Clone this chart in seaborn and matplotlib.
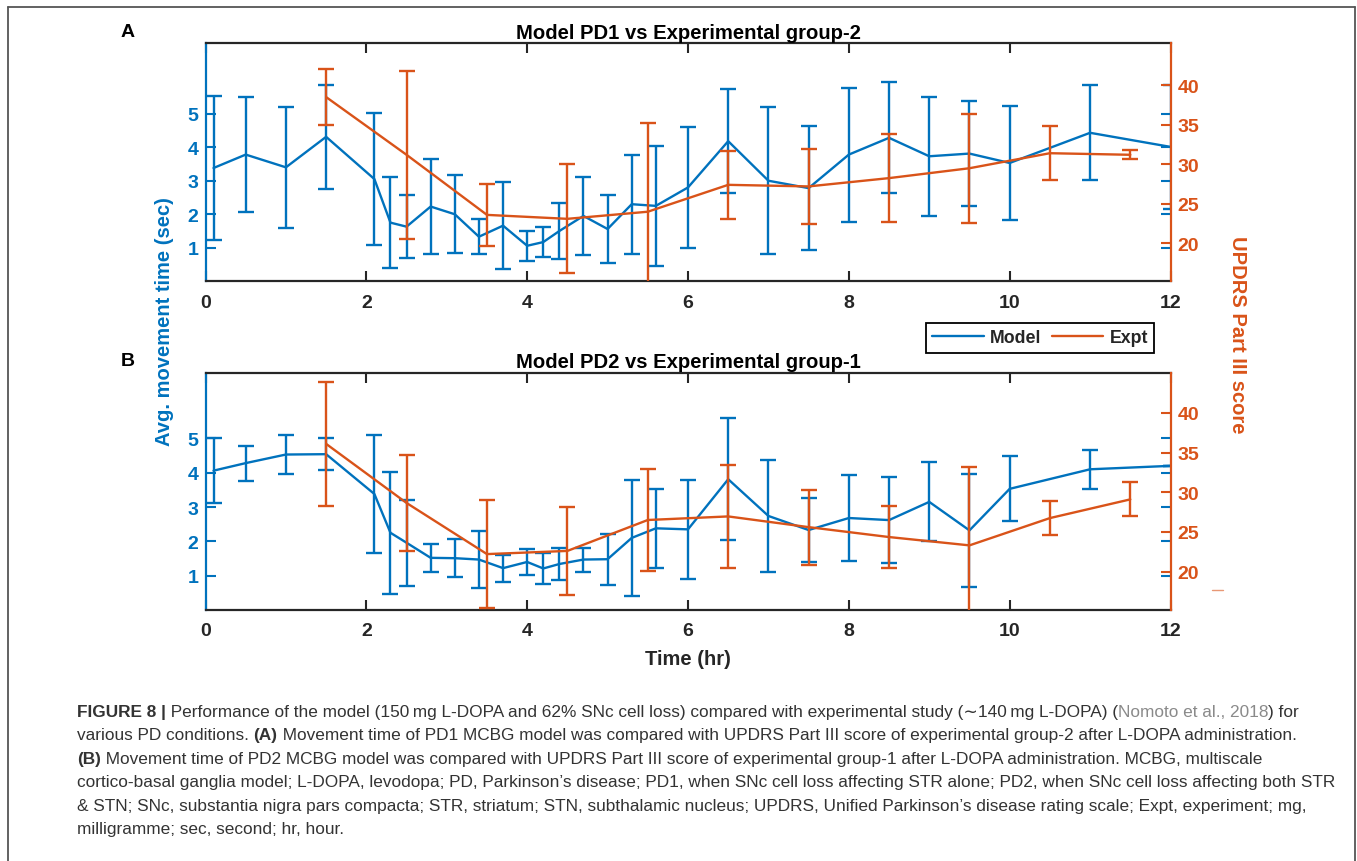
import matplotlib
matplotlib.use("Agg")
import matplotlib.pyplot as plt
from matplotlib.lines import Line2D
import seaborn as sns
import numpy as np

# ---------------- data ----------------
model_x = [0.1, 0.5, 1.0, 1.5, 2.1, 2.3, 2.5, 2.8, 3.1, 3.4, 3.7, 4.0, 4.2, 4.4, 4.7,
           5.0, 5.3, 5.6, 6.0, 6.5, 7.0, 7.5, 8.0, 8.5, 9.0, 9.5, 10.0, 11.0, 12.0]
model_y_A = [3.38, 3.78, 3.40, 4.31, 3.05, 1.75, 1.63, 2.23, 2.00, 1.33, 1.66, 1.06, 1.17, 1.50, 1.95,
             1.56, 2.30, 2.25, 2.80, 4.18, 3.00, 2.78, 3.78, 4.28, 3.73, 3.81, 3.53, 4.43, 4.01]
model_err_A = [2.14, 1.72, 1.80, 1.56, 1.96, 1.36, 0.93, 1.42, 1.17, 0.52, 1.29, 0.45, 0.45, 0.84, 1.17,
               1.00, 1.48, 1.80, 1.80, 1.55, 2.20, 1.85, 2.00, 1.66, 1.77, 1.56, 1.70, 1.42, 1.85]
model_y_B = [4.06, 4.28, 4.53, 4.54, 3.38, 2.25, 1.96, 1.52, 1.51, 1.47, 1.22, 1.40, 1.21, 1.34, 1.47,
             1.48, 2.10, 2.38, 2.35, 3.81, 2.74, 2.33, 2.68, 2.62, 3.15, 2.32, 3.53, 4.10, 4.20]
model_err_B = [0.95, 0.51, 0.58, 0.46, 1.73, 1.78, 1.25, 0.40, 0.55, 0.83, 0.39, 0.37, 0.45, 0.46, 0.35,
               0.74, 1.70, 1.15, 1.45, 1.78, 1.63, 0.92, 1.24, 1.25, 1.15, 1.65, 0.95, 0.57, 0.0]

expt_x = [1.5, 2.5, 3.5, 4.5, 5.5, 6.5, 7.5, 8.5, 9.5, 10.5, 11.5]
expt_y_A = [38.5, 31.2, 23.6, 23.1, 24.0, 27.4, 27.2, 28.25, 29.5, 31.4, 31.2]
expt_err_A = [3.5, 10.6, 3.9, 6.9, 11.2, 4.3, 4.7, 5.55, 6.9, 3.45, 0.57]
expt_y_B = [36.1, 28.65, 22.2, 22.6, 26.5, 26.95, 25.6, 24.35, 23.3, 26.74, 29.1]
expt_err_B = [7.8, 6.0, 6.86, 5.6, 6.45, 6.5, 4.74, 3.88, 9.9, 2.1, 2.15]

titles = ["Model PD1 vs Experimental group-2", "Model PD2 vs Experimental group-1"]
panel_letters = ["A", "B"]
x_ticks = [0, 2, 4, 6, 8, 10, 12]
left_ticks = [1, 2, 3, 4, 5]
right_ticks = [20, 25, 30, 35, 40]
series_names = ["Model", "Expt"]
x_label = "Time (hr)"
left_label = "Avg. movement time (sec)"
right_label = "UPDRS Part III score"

caption_lines = [
    [("FIGURE 8 |", "bold", "n"),
     (" Performance of the model (150\u2009mg L-DOPA and 62% SNc cell loss) compared with experimental study (\u223c140\u2009mg L-DOPA) (", "normal", "n"),
     ("Nomoto et al., 2018", "normal", "g"), (") for", "normal", "n")],
    [("various PD conditions. ", "normal", "n"), ("(A)", "bold", "n"),
     (" Movement time of PD1 MCBG model was compared with UPDRS Part III score of experimental group-2 after L-DOPA administration.", "normal", "n")],
    [("(B)", "bold", "n"),
     (" Movement time of PD2 MCBG model was compared with UPDRS Part III score of experimental group-1 after L-DOPA administration. MCBG, multiscale", "normal", "n")],
    [("cortico-basal ganglia model; L-DOPA, levodopa; PD, Parkinson\u2019s disease; PD1, when SNc cell loss affecting STR alone; PD2, when SNc cell loss affecting both STR", "normal", "n")],
    [("& STN; SNc, substantia nigra pars compacta; STR, striatum; STN, subthalamic nucleus; UPDRS, Unified Parkinson\u2019s disease rating scale; Expt, experiment; mg,", "normal", "n")],
    [("milligramme; sec, second; hr, hour.", "normal", "n")],
]

# ---------------- style ----------------
sns.set_style("white")
plt.rcParams["font.family"] = ["Liberation Sans", "DejaVu Sans"]
BLUE = "#0072BD"
ORANGE = "#D95319"
DARK = "#262626"
W, H = 1357, 862
fig = plt.figure(figsize=(W / 100, H / 100), dpi=100)
fig.patch.set_facecolor("white")

def fx(px):
    return px / W

def fy(py):
    return 1 - py / H

panels = [
    dict(top=44.3, bot=282.3, ylimL=(0, 7.1), ylimR=(15.2, 45.3),
         my=model_y_A, me=model_err_A, ey=expt_y_A, ee=expt_err_A),
    dict(top=373.5, bot=611.0, ylimL=(0, 6.92), ylimR=(15.15, 45.1),
         my=model_y_B, me=model_err_B, ey=expt_y_B, ee=expt_err_B),
]
LEFT, RIGHT = 205.5, 1170.5
LW = 1.7
CAP = 5.8
TICK_FS = 14

for i, p in enumerate(panels):
    ax = fig.add_axes([fx(LEFT), fy(p["bot"]), (RIGHT - LEFT) / W, (p["bot"] - p["top"]) / H])
    ax.set_facecolor("none")
    ax2 = ax.twinx()

    sns.lineplot(x=model_x, y=p["my"], ax=ax, color=BLUE, lw=LW, estimator=None, sort=False)
    ax.errorbar(model_x, p["my"], yerr=p["me"], fmt="none", ecolor=BLUE, elinewidth=LW,
                capsize=CAP, capthick=LW)
    sns.lineplot(x=expt_x, y=p["ey"], ax=ax2, color=ORANGE, lw=LW, estimator=None, sort=False)
    ax2.errorbar(expt_x, p["ey"], yerr=p["ee"], fmt="none", ecolor=ORANGE, elinewidth=LW,
                 capsize=CAP, capthick=LW)

    ax.set_xlim(0, 12)
    ax.set_ylim(*p["ylimL"])
    ax2.set_ylim(*p["ylimR"])
    ax.set_xticks(x_ticks)
    ax.set_xticklabels([str(t) for t in x_ticks])
    ax.set_yticks(left_ticks)
    ax.set_yticklabels([str(t) for t in left_ticks])
    ax2.set_yticks(right_ticks)
    ax2.set_yticklabels([str(t) for t in right_ticks])

    ax.tick_params(axis="x", direction="in", length=7, width=1.5, top=True, bottom=True,
                   colors=DARK, labelsize=TICK_FS, pad=9)
    ax.tick_params(axis="y", direction="in", length=7, width=1.5, left=True, right=True,
                   colors=BLUE, labelsize=TICK_FS, pad=5)
    ax2.tick_params(axis="y", direction="in", length=7, width=1.5, right=True,
                    colors=ORANGE, labelsize=TICK_FS, pad=5)
    for lab in ax.get_xticklabels() + ax.get_yticklabels() + ax2.get_yticklabels():
        lab.set_fontweight("bold")

    for s in ["top", "bottom"]:
        ax.spines[s].set_color(DARK)
        ax.spines[s].set_linewidth(1.6)
    ax.spines["left"].set_color(BLUE)
    ax.spines["left"].set_linewidth(1.6)
    ax.spines["right"].set_visible(False)
    for s in ["top", "bottom", "left"]:
        ax2.spines[s].set_visible(False)
    ax2.spines["right"].set_color(ORANGE)
    ax2.spines["right"].set_linewidth(1.6)
    ax.set_xlabel("")
    ax.set_ylabel("")
    ax2.set_ylabel("")

    ax.set_title(titles[i], fontsize=14.6, fontweight="bold", color="black", pad=4)
    fig.text(fx(128), fy(p["top"] - 11.5), panel_letters[i], fontsize=14, fontweight="bold",
             ha="center", va="center", color="black")

    if i == 0:
        handles = [Line2D([], [], color=BLUE, lw=LW), Line2D([], [], color=ORANGE, lw=LW)]
        leg = ax2.legend(handles, series_names, loc="center", ncol=2,
                         bbox_to_anchor=(fx(1040), fy(339)), bbox_transform=fig.transFigure,
                         frameon=True, fancybox=False, framealpha=1, edgecolor="black",
                         prop={"weight": "bold", "size": 12.8}, handlelength=2.9,
                         handletextpad=0.35, columnspacing=0.6, borderpad=0.35)
        leg.get_frame().set_linewidth(1.3)

# axis labels spanning both panels
fig.text(fx(687.5), fy(660), x_label, fontsize=14.5, fontweight="bold", color=DARK,
         ha="center", va="center")
fig.text(fx(165), fy(322), left_label, fontsize=14.5, fontweight="bold", color=BLUE,
         ha="center", va="center", rotation=90)
fig.text(fx(1237), fy(335), right_label, fontsize=14.5, fontweight="bold", color=ORANGE,
         ha="center", va="center", rotation=270)
fig.add_artist(Line2D([fx(1212), fx(1223)], [fy(591), fy(591)], color=ORANGE, lw=1, alpha=0.6))

# outer frame
frame_kw = dict(color="#555555", lw=1.3)
fig.add_artist(Line2D([fx(7.5), fx(7.5)], [fy(8), 0], **frame_kw))
fig.add_artist(Line2D([fx(7.5), fx(1355)], [fy(8), fy(8)], **frame_kw))
fig.add_artist(Line2D([fx(1355), fx(1355)], [fy(8), 0], **frame_kw))

# caption
renderer = fig.canvas.get_renderer()
cap_family = ["Liberation Sans", "DejaVu Sans"]
probe = fig.text(0, 0, caption_lines[3][0][0], fontsize=10, family=cap_family)
w10 = probe.get_window_extent(renderer).width
probe.remove()
cap_fs = 10 * (1333 - 77) / w10
colors = {"n": "#333333", "g": "#8a8a8a"}
for li, runs in enumerate(caption_lines):
    xpx = 77.0
    ybase = 717 + li * 23.5
    for text, weight, ckey in runs:
        t = fig.text(fx(xpx), fy(ybase), text, fontsize=cap_fs, fontweight=weight,
                     color=colors[ckey], family=cap_family, ha="left", va="baseline")
        bb = t.get_window_extent(renderer)
        xpx = bb.x1

fig.savefig("out.png", dpi=100, facecolor="white")
